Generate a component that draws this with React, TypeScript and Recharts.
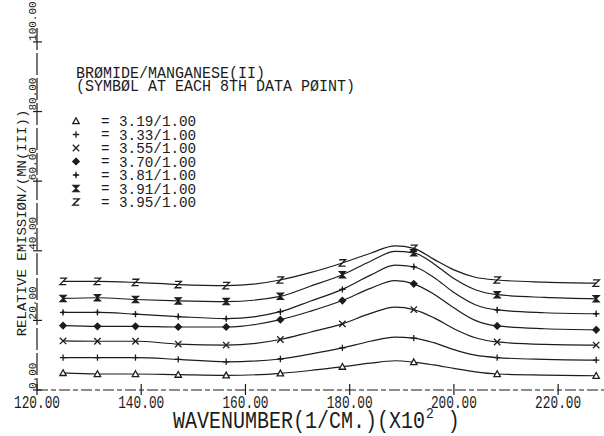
import type { ReactNode } from 'react'
import { Legend, Line, LineChart, XAxis, YAxis } from 'recharts'

// wavenumber (1/cm x 10^2) of each plotted point; symbolAt flags the points that carry a symbol
const wavenumbers = [125.0, 131.6, 138.9, 147.1, 156.3, 166.7, 172.4, 178.6, 184.0, 188.7, 192.3, 196.1, 200.0, 204.1, 208.3, 217.4, 227.3]
const symbolAt = [1, 1, 1, 1, 1, 1, 0, 1, 0, 0, 1, 0, 0, 0, 1, 0, 1]

// relative emission for each bromide/manganese(II) ratio
const emission319 = [4.9, 4.6, 4.6, 4.4, 4.2, 4.8, 5.6, 6.7, 7.7, 8.4, 8.0, 7.2, 6.2, 5.2, 4.6, 4.3, 4.1]
const emission333 = [9.3, 9.3, 9.3, 8.8, 8.1, 8.9, 10.3, 12.1, 14.0, 15.2, 14.9, 13.6, 11.6, 10.0, 9.3, 8.8, 8.6]
const emission355 = [14.1, 14.0, 14.0, 13.2, 12.9, 14.5, 16.6, 19.0, 22.0, 23.8, 23.1, 20.8, 17.6, 15.0, 13.8, 13.1, 12.9]
const emission370 = [18.5, 18.3, 18.3, 18.1, 18.1, 20.2, 22.6, 25.7, 29.2, 31.4, 30.5, 27.6, 23.6, 20.0, 18.4, 17.6, 17.3]
const emission381 = [22.3, 22.3, 21.8, 21.1, 20.5, 22.5, 25.5, 28.9, 33.0, 35.9, 35.4, 32.4, 28.0, 24.5, 23.0, 22.2, 21.9]
const emission391 = [26.3, 26.5, 26.0, 25.6, 25.4, 26.9, 29.8, 33.1, 37.0, 39.8, 39.4, 36.3, 32.0, 28.8, 27.4, 26.6, 26.2]
const emission395 = [31.2, 31.2, 30.9, 30.3, 30.0, 31.6, 33.7, 36.5, 39.3, 41.4, 40.7, 37.6, 34.5, 32.4, 31.6, 31.0, 30.7]

const xTicks = [120, 140, 160, 180, 200, 220]
const yTicks = [0, 20, 40, 60, 80, 100]

type SymbolKind = 'triangle' | 'plus' | 'cross' | 'diamond' | 'boldPlus' | 'hourglass' | 'zed'

const series: { key: string; label: string; symbol: SymbolKind; values: number[] }[] = [
  { key: 'r319', label: '3.19/1.00', symbol: 'triangle', values: emission319 },
  { key: 'r333', label: '3.33/1.00', symbol: 'plus', values: emission333 },
  { key: 'r355', label: '3.55/1.00', symbol: 'cross', values: emission355 },
  { key: 'r370', label: '3.70/1.00', symbol: 'diamond', values: emission370 },
  { key: 'r381', label: '3.81/1.00', symbol: 'boldPlus', values: emission381 },
  { key: 'r391', label: '3.91/1.00', symbol: 'hourglass', values: emission391 },
  { key: 'r395', label: '3.95/1.00', symbol: 'zed', values: emission395 },
]

const data = wavenumbers.map((w, i) => {
  const row: Record<string, number | boolean> = { w, mark: symbolAt[i] === 1 }
  series.forEach((s) => {
    row[s.key] = s.values[i]
  })
  return row
})

const INK = '#1c1c1c'
const FONT = '"Liberation Mono", "DejaVu Sans Mono", monospace'

// plotter lettering is tall and narrow, so mono text gets stretched vertically
function PlotText({
  x,
  y,
  size,
  stretch = 1.4,
  rotate = 0,
  anchor = 'start',
  children,
}: {
  x: number
  y: number
  size: number
  stretch?: number
  rotate?: number
  anchor?: 'start' | 'middle' | 'end'
  children: ReactNode
}) {
  return (
    <text
      transform={`translate(${x},${y}) rotate(${rotate}) scale(1,${stretch})`}
      fontFamily={FONT}
      fontSize={size}
      textAnchor={anchor}
      fill={INK}
    >
      {children}
    </text>
  )
}

function Marker({ kind, cx, cy }: { kind: SymbolKind; cx: number; cy: number }) {
  const r = 3.2
  const common = { stroke: INK, strokeWidth: 1.3, fill: 'none' }
  switch (kind) {
    case 'triangle':
      return (
        <path
          d={`M${cx},${cy - r} L${cx + r},${cy + r * 0.8} L${cx - r},${cy + r * 0.8} Z`}
          {...common}
          fill="#fff"
        />
      )
    case 'plus':
      return <path d={`M${cx - r},${cy} H${cx + r} M${cx},${cy - r} V${cy + r}`} {...common} />
    case 'cross':
      return (
        <path
          d={`M${cx - r},${cy - r} L${cx + r},${cy + r} M${cx - r},${cy + r} L${cx + r},${cy - r}`}
          {...common}
        />
      )
    case 'diamond':
      return (
        <path
          d={`M${cx},${cy - r} L${cx + r},${cy} L${cx},${cy + r} L${cx - r},${cy} Z`}
          {...common}
          fill={INK}
        />
      )
    case 'boldPlus':
      return (
        <g>
          <path d={`M${cx - r},${cy} H${cx + r} M${cx},${cy - r} V${cy + r}`} {...common} />
          <path
            d={`M${cx},${cy - 1.8} L${cx + 1.8},${cy} L${cx},${cy + 1.8} L${cx - 1.8},${cy} Z`}
            fill={INK}
          />
        </g>
      )
    case 'hourglass':
      return (
        <path
          d={`M${cx - r},${cy - r} H${cx + r} L${cx - r},${cy + r} H${cx + r} Z`}
          {...common}
          strokeWidth={1.1}
          fill={INK}
        />
      )
    case 'zed':
      return (
        <path d={`M${cx - r},${cy - r} H${cx + r} L${cx - r},${cy + r} H${cx + r}`} {...common} />
      )
  }
}

function XTick({ x, y, payload }: { x: number; y: number; payload: { value: number } }) {
  return (
    <g>
      <line x1={x} x2={x} y1={y - 6} y2={y + 5} stroke={INK} strokeWidth={1.2} />
      <PlotText x={x} y={y + 18} size={12.8} stretch={1.45} anchor="middle">
        {payload.value.toFixed(2)}
      </PlotText>
    </g>
  )
}

function YTick({ x, y, payload }: { x: number; y: number; payload: { value: number } }) {
  return (
    <g>
      <line x1={x - 4} x2={x + 5} y1={y} y2={y} stroke={INK} strokeWidth={1.2} />
      <PlotText x={x - 1.5} y={y - 1} size={11} stretch={1.05} rotate={-90}>
        {payload.value.toFixed(2)}
      </PlotText>
    </g>
  )
}

// title, subtitle and one row per ratio, in page coordinates
function LegendBlock() {
  const rowTop = 121
  const rowGap = 13.5
  return (
    <svg width={400} height={230} style={{ display: 'block', overflow: 'visible' }}>
      <PlotText x={76} y={77.5} size={15} stretch={1.08}>
        BRØMIDE/MANGANESE(II)
      </PlotText>
      <PlotText x={76} y={90.5} size={15} stretch={1.08}>
        (SYMBØL AT EACH  8TH DATA PØINT)
      </PlotText>
      {series.map((s, i) => {
        const cy = rowTop + i * rowGap
        return (
          <g key={s.key}>
            <Marker kind={s.symbol} cx={76} cy={cy} />
            <PlotText x={101} y={cy + 4.5} size={14.3} stretch={1.05}>
              =
            </PlotText>
            <PlotText x={119} y={cy + 5} size={14.3} stretch={1.05}>
              {s.label}
            </PlotText>
          </g>
        )
      })}
    </svg>
  )
}

export default function App() {
  return (
    <div style={{ position: 'absolute', left: 0, top: 0, width: 604, height: 436, background: '#fff' }}>
      <LineChart width={604} height={436} data={data} margin={{ top: 28, right: 0, bottom: 0, left: 0 }}>
        <XAxis
          dataKey="w"
          type="number"
          domain={[120, 228.8]}
          ticks={xTicks}
          height={46}
          tickSize={0}
          tickMargin={0}
          tickLine={false}
          axisLine={{ stroke: INK, strokeWidth: 1.2, strokeDasharray: '11 3 5 3' }}
          tick={XTick}
          interval={0}
        />
        {/* the axis runs a little past the 100 tick */}
        <YAxis
          type="number"
          domain={[0, 104]}
          ticks={yTicks}
          width={37}
          tickSize={0}
          tickMargin={0}
          tickLine={false}
          axisLine={{ stroke: INK, strokeWidth: 1.2, strokeDasharray: '22 3' }}
          tick={YTick}
          interval={0}
        />
        <Legend
          layout="horizontal"
          verticalAlign="middle"
          align="center"
          content={() => <LegendBlock />}
          wrapperStyle={{ left: 0, top: 0, width: 400, height: 230 }}
        />
        {series.map((s) => (
          <Line
            key={s.key}
            dataKey={s.key}
            type="monotone"
            stroke={INK}
            strokeWidth={1.2}
            isAnimationActive={false}
            activeDot={false}
            dot={(p: any) =>
              p.payload.mark ? (
                <Marker key={`${s.key}-${p.index}`} kind={s.symbol} cx={p.cx} cy={p.cy} />
              ) : (
                <g key={`${s.key}-${p.index}`} />
              )
            }
          />
        ))}
        <g>
          <PlotText x={25.5} y={223} size={14} stretch={0.95} rotate={-90} anchor="middle">
            RELATIVE EMISSIØN/(MN(III))
          </PlotText>
          <PlotText x={173} y={428} size={20} stretch={1.15}>
            WAVENUMBER(1/CM.)(X10
            <tspan dx={1} dy={-9} fontSize={13}>
              2
            </tspan>
            <tspan dx={14} dy={9}>
              )
            </tspan>
          </PlotText>
        </g>
      </LineChart>
    </div>
  )
}
